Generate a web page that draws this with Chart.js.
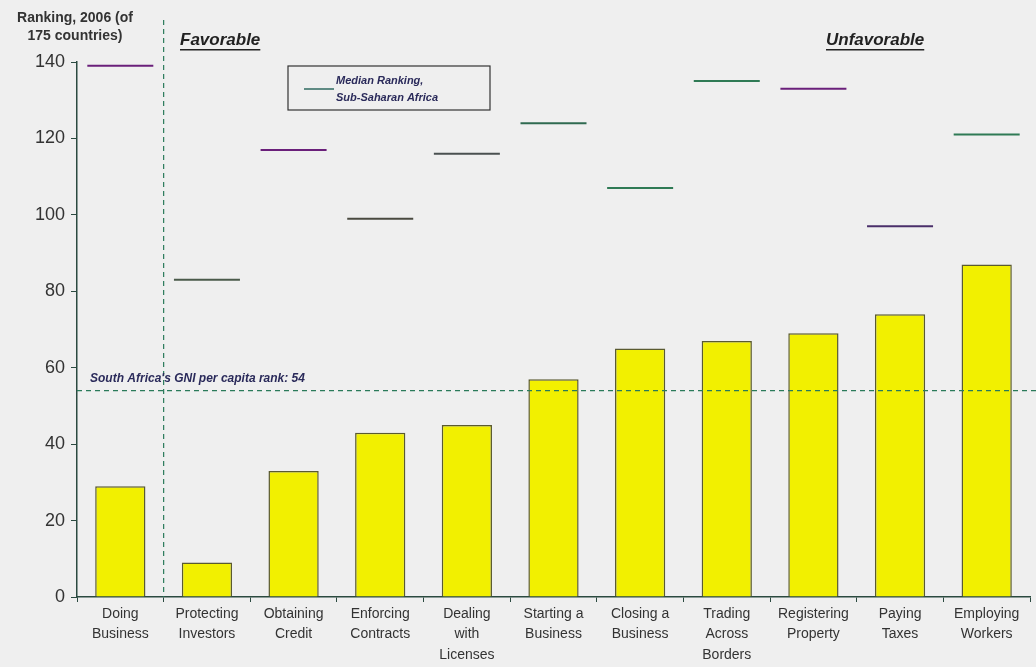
<!DOCTYPE html>
<html>
<head>
<meta charset="utf-8">
<script src="https://cdn.jsdelivr.net/npm/chart.js@4/dist/chart.umd.min.js"></script>
<style>
  body { margin: 0; background: #efefef; }
  #wrap { width: 1036px; height: 667px; }
</style>
</head>
<body>
<div id="wrap"><canvas id="rank-chart" width="1036" height="667"></canvas></div>
<script>
const categories = [
    ["Doing", "Business"], ["Protecting", "Investors"], ["Obtaining", "Credit"],
    ["Enforcing", "Contracts"], ["Dealing", "with", "Licenses"], ["Starting a", "Business"],
    ["Closing a", "Business"], ["Trading", "Across", "Borders"], ["Registering", "Property"],
    ["Paying", "Taxes"], ["Employing", "Workers"]
];
const southAfricaRank = [29, 9, 33, 43, 45, 57, 65, 67, 69, 74, 87];
const medianSSA = [139, 83, 117, 99, 116, 124, 107, 135, 133, 97, 121];
const gniRank = 54;
const yTicks = [0, 20, 40, 60, 80, 100, 120, 140];

const medianColors = ["#6a1f7a", "#4a5a4a", "#6a1f7a", "#4a4a40", "#4a5050", "#2f6a50",
    "#2f7a55", "#2f7a55", "#6a1f7a", "#4a2f6a", "#2f7a55"];
const axisColor = "#2b4a40";

// extra drawing: titles, legend box, reference lines
const extras = {
    id: "extras",
    afterDatasetsDraw(chart) {
        const ctx = chart.ctx;
        const x = chart.scales.x, y = chart.scales.y;
        const area = chart.chartArea;
        ctx.save();

        // vertical dashed separator
        const sepX = (x.getPixelForValue(0) + x.getPixelForValue(1)) / 2;
        ctx.strokeStyle = "#2a7a5a";
        ctx.lineWidth = 1.2;
        ctx.setLineDash([5, 4]);
        ctx.beginPath();
        ctx.moveTo(sepX, 20);
        ctx.lineTo(sepX, area.bottom);
        ctx.stroke();

        // GNI line
        const gy = y.getPixelForValue(gniRank);
        ctx.beginPath();
        ctx.moveTo(area.left, gy);
        ctx.lineTo(1036, gy);
        ctx.stroke();
        ctx.setLineDash([]);

        ctx.fillStyle = "#2a2a5a";
        ctx.font = "italic bold 12px 'Liberation Sans', Arial";
        ctx.textBaseline = "alphabetic";
        ctx.fillText("South Africa's GNI per capita rank: 54", 90, gy - 9);

        // title
        ctx.fillStyle = "#333";
        ctx.font = "bold 14px 'Liberation Sans', Arial";
        ctx.textAlign = "center";
        ctx.fillText("Ranking, 2006 (of", 75, 22);
        ctx.fillText("175 countries)", 75, 40);

        // favorable / unfavorable
        ctx.font = "italic bold 17px 'Liberation Sans', Arial";
        ctx.textAlign = "left";
        ctx.fillStyle = "#222";
        [["Favorable", 180], ["Unfavorable", 826]].forEach(([t, tx]) => {
            ctx.fillText(t, tx, 45);
            const w = ctx.measureText(t).width;
            ctx.fillRect(tx, 49, w, 1.5);
        });

        // legend box
        ctx.strokeStyle = "#333";
        ctx.lineWidth = 1.2;
        ctx.strokeRect(288, 66, 202, 44);
        ctx.strokeStyle = "#2f6a60";
        ctx.lineWidth = 1.5;
        ctx.beginPath();
        ctx.moveTo(304, 89);
        ctx.lineTo(334, 89);
        ctx.stroke();
        ctx.fillStyle = "#2a2a5a";
        ctx.font = "italic bold 11px 'Liberation Sans', Arial";
        ctx.fillText("Median Ranking,", 336, 84);
        ctx.fillText("Sub-Saharan Africa", 336, 101);

        ctx.restore();
    }
};

new Chart(document.getElementById("rank-chart"), {
    data: {
        labels: categories,
        datasets: [
            {
                type: "bar",
                label: "South Africa",
                data: southAfricaRank,
                backgroundColor: "#f2f000",
                borderColor: "#5a5a30",
                borderWidth: 1.5,
                categoryPercentage: 1,
                barPercentage: 0.58,
                order: 2
            },
            {
                type: "line",
                label: "Median Ranking, Sub-Saharan Africa",
                data: medianSSA,
                showLine: false,
                clip: false,
                pointStyle: "line",
                pointRadius: 33,
                pointHoverRadius: 33,
                pointBorderWidth: 2,
                pointBorderColor: medianColors,
                order: 1
            }
        ]
    },
    options: {
        responsive: false,
        animation: false,
        layout: { autoPadding: false, padding: { top: 62, right: 6, left: 0, bottom: 0 } },
        plugins: { legend: { display: false }, tooltip: { enabled: false } },
        scales: {
            x: {
                offset: true,
                grid: { display: true, drawOnChartArea: false, offset: true, tickLength: 5, color: axisColor },
                border: { color: axisColor, width: 1.5 },
                ticks: {
                    color: "#333",
                    font: { family: "'Liberation Sans', Arial", size: 14, lineHeight: 1.45 },
                    maxRotation: 0,
                    padding: 2
                },
                afterFit(scale) {
                    scale.height = 70;
                    scale.paddingLeft = 0;
                    scale.paddingRight = 0;
                }
            },
            y: {
                min: 0,
                max: 140,
                afterBuildTicks(scale) { scale.ticks = yTicks.map(v => ({ value: v })); },
                grid: { display: true, drawOnChartArea: false, tickLength: 6, color: axisColor },
                border: { color: axisColor, width: 1.5 },
                ticks: {
                    color: "#333",
                    font: { family: "'Liberation Sans', Arial", size: 18 },
                    padding: 6
                },
                afterFit(scale) { scale.width = 77; }
            }
        }
    },
    plugins: [extras]
});
</script>
</body>
</html>
